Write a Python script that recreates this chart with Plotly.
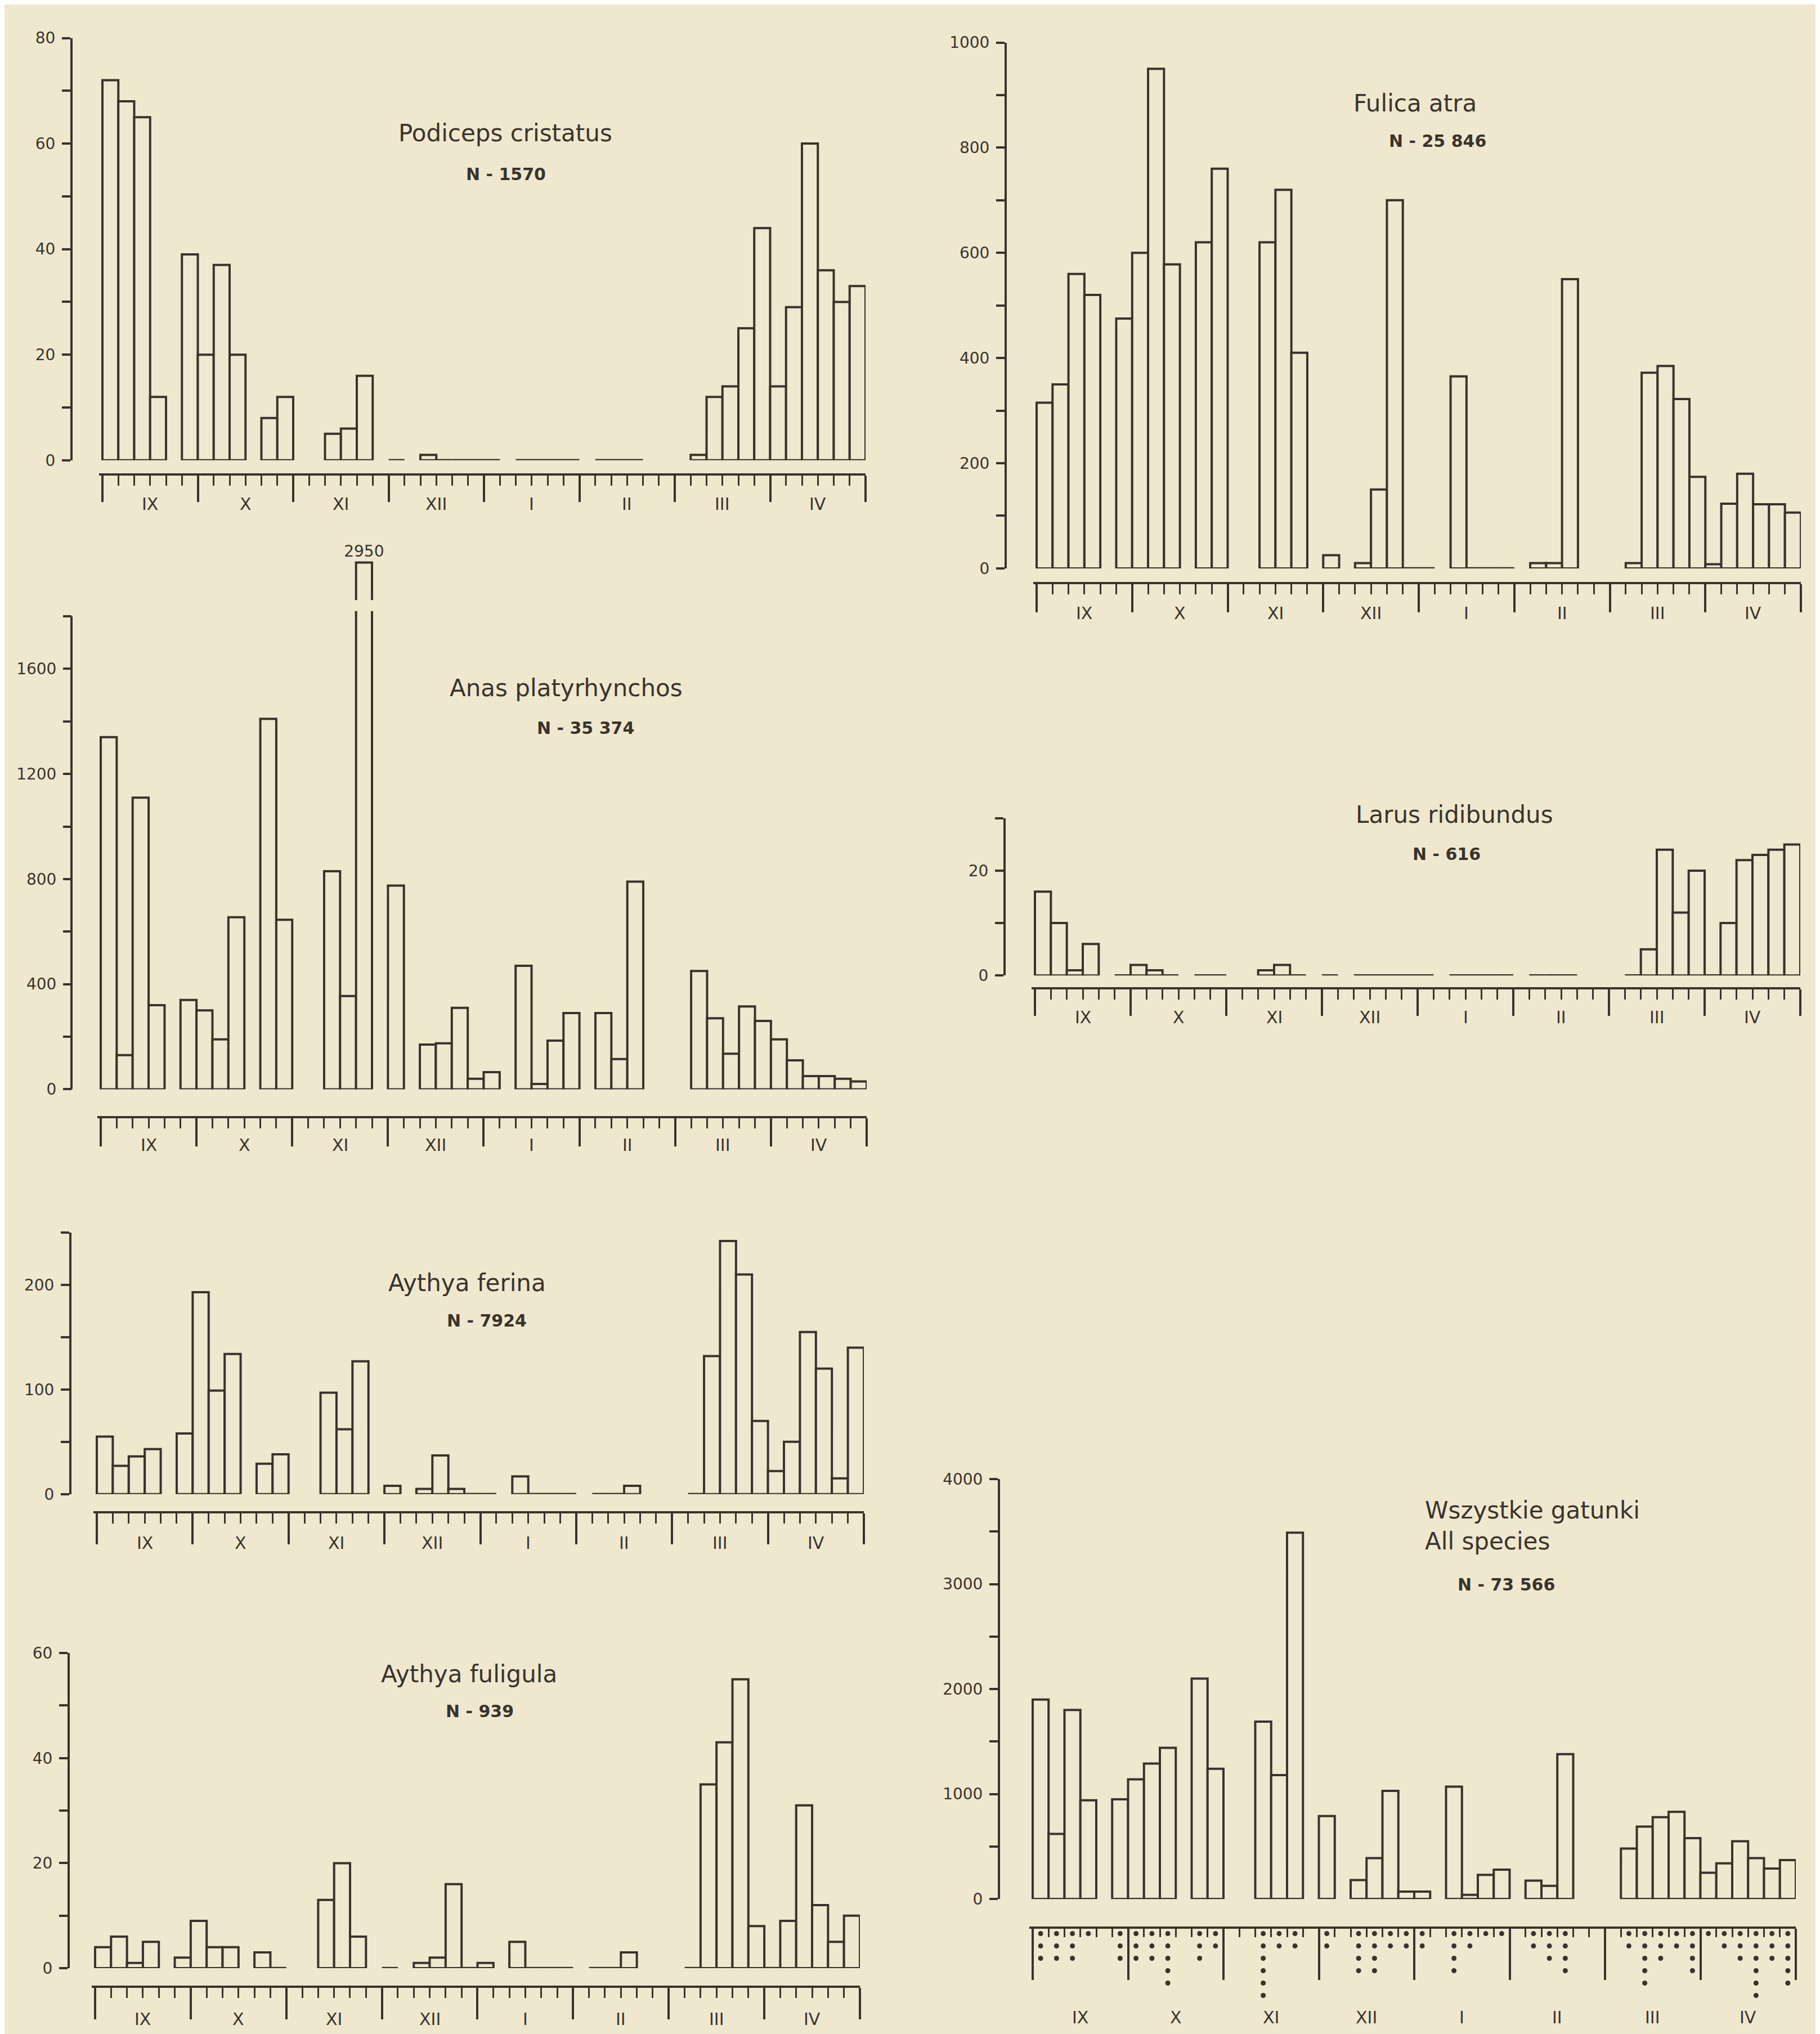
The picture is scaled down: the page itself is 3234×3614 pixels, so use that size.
import plotly.graph_objects as go

W, H = 3234, 3614
BG = "#EFE8CF"
INK = "#3A332B"
FONT = "DejaVu Sans"
LW = 4

# ---------------- data ----------------
MONTHS = ["IX", "X", "XI", "XII", "I", "II", "III", "IV"]
# five-day periods (6 per month, 48 in total) on which counts were made
SLOTS = [0, 1, 2, 3, 5, 6, 7, 8, 10, 11, 14, 15, 16, 18, 20, 21, 22, 23, 24,
         26, 27, 28, 29, 31, 32, 33, 37, 38, 39, 40, 41, 42, 43, 44, 45, 46, 47]

PODICEPS = [72, 68, 65, 12, 39, 20, 37, 20, 8, 12, 5, 6, 16, 0, 1, 0, 0, 0, 0,
            0, 0, 0, 0, 0, 0, 0, 1, 12, 14, 25, 44, 14, 29, 60, 36, 30, 33]
ANAS = [1340, 130, 1110, 320, 340, 300, 190, 655, 1410, 645, 830, 355, 2950, 775,
        170, 175, 310, 40, 65, 470, 20, 185, 290, 290, 115, 790,
        450, 270, 135, 315, 260, 190, 110, 50, 50, 40, 30]
FERINA = [55, 27, 36, 43, 58, 193, 99, 134, 29, 38, 97, 62, 127, 8, 5, 37, 5, 0, 0,
          17, 0, 0, 0, 0, 0, 8, 0, 132, 242, 210, 70, 22, 50, 155, 120, 15, 140]
FULIGULA = [4, 6, 1, 5, 2, 9, 4, 4, 3, 0, 13, 20, 6, 0, 1, 2, 16, 0, 1,
            5, 0, 0, 0, 0, 0, 3, 0, 35, 43, 55, 8, 0, 9, 31, 12, 5, 10]
FULICA = [315, 350, 560, 520, 475, 600, 950, 578, 620, 760, 620, 720, 410, 25,
          10, 150, 700, 0, 0, 365, 0, 0, 0, 10, 10, 550,
          10, 372, 385, 322, 174, 8, 123, 180, 122, 122, 106]
LARUS = [16, 10, 1, 6, 0, 2, 1, 0, 0, 0, 1, 2, 0, 0, 0, 0, 0, 0, 0,
         0, 0, 0, 0, 0, 0, 0, 0, 5, 24, 12, 20, 0, 10, 22, 23, 24, 25]
ALL_SPECIES = [1900, 620, 1800, 940, 950, 1140, 1290, 1440, 2100, 1240, 1690, 1180, 3490, 790,
               180, 390, 1030, 70, 70, 1070, 40, 230, 280, 175, 125, 1380,
               480, 690, 780, 830, 580, 250, 340, 550, 390, 290, 370]
ALL_DOTS = [3, 3, 3, 1, 3, 3, 3, 5, 3, 2, 6, 2, 2, 2, 4, 4, 2, 2, 2,
            4, 2, 1, 1, 2, 3, 4, 2, 5, 3, 2, 4, 1, 2, 3, 6, 3, 5]

TITLES = ["Podiceps cristatus", "Anas platyrhynchos", "Aythya ferina", "Aythya fuligula",
          "Fulica atra", "Larus ridibundus", "Wszystkie gatunki<br>All species"]
N_LABELS = ["N - 1570", "N - 35 374", "N - 7924", "N - 939", "N - 25 846", "N - 616", "N - 73 566"]
SERIES = [PODICEPS, ANAS, FERINA, FULIGULA, FULICA, LARUS, ALL_SPECIES]
AXIS_TOPS = [80, 1800, 250, 60, 1000, 30, 4000]
RANGE_TOPS = [80, 2150, 250, 60, 1000, 30, 4000]
TICK_STEPS = [10, 200, 50, 10, 100, 10, 500]
LABEL_STEPS = [20, 400, 100, 20, 200, 20, 1000]

# broken bar display (Anas, XI)
BREAK_CAP = 2005
BREAK_LO, BREAK_HI = 1820, 1862


# ---------------- layout geometry (pixels) ----------------
def fx(px):
    return px / W


def fy(py):
    return 1 - py / H


GEOM = [
    dict(yx=119, s0=174, s48=1530, zero=801, top=44, axis=827, lab=880, major=47,
         title=(890, 214), npos=(891, 288)),
    dict(yx=119, s0=171, s48=1532, zero=1929, top=1081, axis=1979, lab=2029, major=50,
         title=(998, 1210), npos=(1032, 1281)),
    dict(yx=117, s0=164, s48=1527, zero=2655, top=2186, axis=2688, lab=2743, major=55,
         title=(822, 2276), npos=(857, 2344)),
    dict(yx=114, s0=161, s48=1520, zero=3505, top=2940, axis=3538, lab=3596, major=56,
         title=(825, 2978), npos=(844, 3044)),
    dict(yx=1779, s0=1834, s48=3192, zero=995, top=52, axis=1021, lab=1075, major=50,
         title=(2506, 161), npos=(2546, 229)),
    dict(yx=1777, s0=1831, s48=3191, zero=1725, top=1443, axis=1748, lab=1800, major=47,
         title=(2576, 1437), npos=(2562, 1507)),
    dict(yx=1767, s0=1827, s48=3183, zero=3381, top=2628, axis=3432, lab=3593, major=91,
         minor=15, title=(2522, 2712), npos=(2668, 2817), left=True),
]

fig = go.Figure()
layout_axes = {}
annotations = []
shapes = []

X_RANGE = [-0.2, 48]

for i, (vals, g) in enumerate(zip(SERIES, GEOM), start=1):
    suf = "" if i == 1 else str(i)
    xa, ya = "x" + suf, "y" + suf
    top = AXIS_TOPS[i - 1]
    rtop = RANGE_TOPS[i - 1]
    bx, by = [], []
    kx, ky, kt = [], [], []
    zx, zy = [], []
    for s, v in zip(SLOTS, vals):
        if v == 0:
            zx += [s, s + 1, None]
            zy += [0, 0, None]
        elif v > top:
            kx.append(s + 0.5)
            ky.append(min(v, BREAK_CAP))
            kt.append(str(v))
        else:
            bx.append(s + 0.5)
            by.append(v)
    bar_style = dict(color=BG, line=dict(color=INK, width=LW))
    fig.add_trace(go.Bar(x=bx, y=by, width=1, xaxis=xa, yaxis=ya, marker=bar_style,
                         cliponaxis=False, showlegend=False, hoverinfo="skip"))
    if kx:
        fig.add_trace(go.Bar(x=kx, y=ky, width=1, xaxis=xa, yaxis=ya, marker=bar_style,
                             text=kt, textposition="outside", constraintext="none",
                             textfont=dict(size=28, color=INK, family=FONT),
                             cliponaxis=False, showlegend=False, hoverinfo="skip"))
        for x in kx:
            shapes.append(dict(type="rect", xref=xa, yref=ya,
                               x0=x - 0.65, x1=x + 0.65, y0=BREAK_LO, y1=BREAK_HI,
                               fillcolor=BG, line=dict(width=0), layer="above"))
            fig.add_trace(go.Scatter(x=[x - 0.5, x + 0.5], y=[BREAK_HI - 12, BREAK_LO + 10],
                                     xaxis=xa, yaxis=ya, mode="markers",
                                     marker=dict(size=6, color=INK), cliponaxis=False,
                                     showlegend=False, hoverinfo="skip"))
    if zx:
        fig.add_trace(go.Scatter(x=zx, y=zy, xaxis=xa, yaxis=ya, mode="lines",
                                 line=dict(color=INK, width=LW + 0.5), cliponaxis=False,
                                 showlegend=False, hoverinfo="skip"))

    w = (g["s48"] - g["s0"]) / 48
    dom = [fx(g["s0"] + X_RANGE[0] * w), fx(g["s48"])]
    layout_axes["xaxis" + suf] = dict(
        domain=dom, range=X_RANGE, anchor="free", position=fy(g["axis"]),
        showline=True, linecolor=INK, linewidth=LW,
        ticks="outside", tickmode="linear", tick0=0, dtick=6, ticklen=g["major"],
        tickwidth=LW, tickcolor=INK, showticklabels=False, showgrid=False, zeroline=False,
        minor=dict(ticks="outside", tickmode="linear", tick0=0, dtick=1,
                   ticklen=g.get("minor", 18), tickwidth=3, tickcolor=INK, showgrid=False),
        fixedrange=True)
    step, lstep = TICK_STEPS[i - 1], LABEL_STEPS[i - 1]
    tv = list(range(0, top + 1, step))
    tt = [str(v) if v % lstep == 0 else "" for v in tv]
    dom_top_py = g["zero"] - rtop / top * (g["zero"] - g["top"])
    extended = rtop > top
    layout_axes["yaxis" + suf] = dict(
        domain=[fy(g["zero"]), fy(dom_top_py)], range=[0, rtop], anchor="free",
        position=fx(g["yx"]), side="left", showline=not extended, linecolor=INK, linewidth=LW,
        tickmode="array", tickvals=tv, ticktext=tt, ticks="outside", ticklen=15,
        tickwidth=LW, tickcolor=INK, ticklabelstandoff=6,
        tickfont=dict(size=28, color=INK, family=FONT),
        showgrid=False, zeroline=False, fixedrange=True)
    if extended:
        # axis line drawn only up to the top tick
        shapes.append(dict(type="line", xref="paper", yref=ya,
                           x0=fx(g["yx"]), x1=fx(g["yx"]), y0=0, y1=top,
                           line=dict(color=INK, width=LW), layer="above"))

    for k, m in enumerate(MONTHS):
        annotations.append(dict(x=3 + 6 * k, xref=xa, y=fy(g["lab"]), yref="paper",
                                text=m, showarrow=False, xanchor="center", yanchor="middle",
                                font=dict(size=30, color=INK, family=FONT)))
    tx, ty = g["title"]
    annotations.append(dict(x=fx(tx), y=fy(ty), xref="paper", yref="paper",
                            text=TITLES[i - 1], showarrow=False,
                            xanchor="left" if g.get("left") else "center", yanchor="middle",
                            align="left", font=dict(size=42, color=INK, family=FONT)))
    nx, ny = g["npos"]
    annotations.append(dict(x=fx(nx), y=fy(ny), xref="paper", yref="paper",
                            text="<b>" + N_LABELS[i - 1] + "</b>", showarrow=False,
                            xanchor="center", yanchor="middle",
                            font=dict(size=30, color=INK, family=FONT)))

# dot matrix under "All species"
ROW0, ROWGAP = 3443, 22.2
DOT_TOP, DOT_BOT = 3432, 3580
dx, dy = [], []
for s, c in zip(SLOTS, ALL_DOTS):
    for r in range(c):
        dx.append(s + 0.5)
        dy.append(r)
fig.add_trace(go.Scatter(x=dx, y=dy, xaxis="x7", yaxis="y8", mode="markers",
                         marker=dict(size=9, color=INK), cliponaxis=False,
                         showlegend=False, hoverinfo="skip"))
layout_axes["yaxis8"] = dict(domain=[fy(DOT_BOT), fy(DOT_TOP)],
                             range=[(DOT_BOT - ROW0) / ROWGAP, (DOT_TOP - ROW0) / ROWGAP],
                             anchor="x7", visible=False, fixedrange=True)

fig.update_layout(
    width=W, height=H, margin=dict(l=0, r=0, t=0, b=0),
    paper_bgcolor=BG, plot_bgcolor="rgba(0,0,0,0)",
    barmode="overlay", showlegend=False,
    font=dict(family=FONT, color=INK),
    annotations=annotations, shapes=shapes,
    **layout_axes)

fig.write_html("out.html")
